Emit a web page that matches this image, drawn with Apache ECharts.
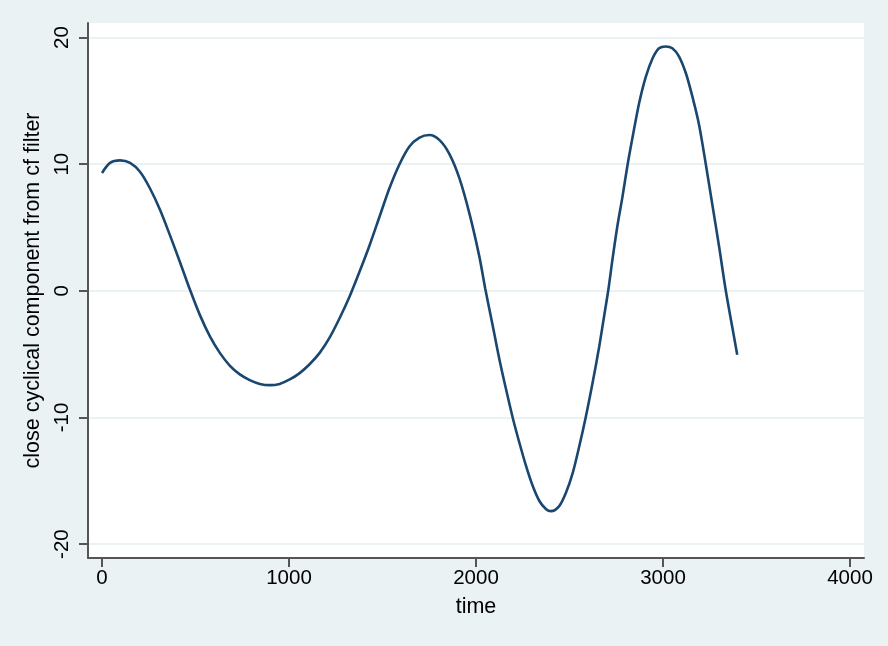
<!DOCTYPE html>
<html>
<head>
<meta charset="utf-8">
<script src="https://cdn.jsdelivr.net/npm/echarts@6/dist/echarts.min.js"></script>
<style>
html,body{margin:0;padding:0;background:#EAF2F3;}
#chart{width:888px;height:646px;}
</style>
</head>
<body>
<div id="chart"></div>
<script>
// time values
const time = [0,43,96,150,203,256,310,363,416,470,523,577,630,683,737,790,844,897,950,1004,1057,1110,1164,1217,1271,1324,1377,1431,1484,1537,1591,1644,1698,1751,1805,1858,1911,1965,2018,2049,2090,2125,2161,2196,2232,2268,2303,2339,2375,2401,2445,2481,2517,2552,2588,2623,2659,2683,2708,2730,2757,2783,2810,2837,2872,2908,2944,2979,3015,3050,3086,3122,3157,3193,3229,3264,3300,3336,3371,3397];
// close cyclical component from cf filter
const cyc = [9.3,10.1,10.3,10.1,9.4,8.1,6.4,4.4,2.3,0.1,-1.9,-3.6,-4.9,-5.9,-6.6,-7.05,-7.35,-7.45,-7.35,-7.0,-6.5,-5.8,-4.9,-3.7,-2.15,-0.45,1.5,3.6,5.85,8.1,10.0,11.4,12.1,12.3,11.9,10.8,8.9,6.1,2.7,0.2,-2.8,-5.4,-7.8,-10,-12,-13.85,-15.4,-16.6,-17.25,-17.4,-17.0,-15.95,-14.4,-12.3,-9.9,-7.3,-4.4,-2.2,0.1,2.5,5.2,7.4,9.9,12.1,14.8,16.9,18.35,19.15,19.3,19.15,18.5,17.2,15.35,13.1,10,6.8,3.5,0,-2.9,-5.05];
const xTicks = [0,1000,2000,3000,4000];
const yTicks = [-20,-10,0,10,20];

const font = '"Liberation Sans", Arial, Helvetica, sans-serif';
const chart = echarts.init(document.getElementById('chart'));
chart.setOption({
  animation: false,
  backgroundColor: '#EAF2F3',
  grid: {left: 88, right: 24, top: 23, bottom: 88, show: true, backgroundColor: '#FFFFFF', borderWidth: 0},
  xAxis: {
    type: 'value', min: -75, max: 4075,
    name: 'time', nameLocation: 'middle', nameGap: 38,
    nameTextStyle: {fontFamily: font, fontSize: 21.5, color: '#000'},
    axisLine: {show: true, onZero: false, lineStyle: {color: '#555555', width: 2}},
    axisTick: {show: true, length: 9, customValues: xTicks, lineStyle: {color: '#555555', width: 2}},
    axisLabel: {customValues: xTicks, margin: 10, fontFamily: font, fontSize: 20.5, color: '#000', formatter: v => String(v)},
    splitLine: {show: false}
  },
  yAxis: {
    type: 'value', min: -21.1, max: 21.15,
    name: 'close cyclical component from cf filter', nameLocation: 'middle', nameGap: 39, nameRotate: 90,
    nameTextStyle: {fontFamily: font, fontSize: 21.5, color: '#000'},
    axisLine: {show: true, onZero: false, lineStyle: {color: '#555555', width: 2}},
    axisTick: {show: true, length: 9, customValues: yTicks, lineStyle: {color: '#555555', width: 2}},
    axisLabel: {customValues: yTicks, rotate: 90, margin: 15, fontFamily: font, fontSize: 20.5, color: '#000', formatter: v => String(v)},
    splitLine: {show: true, lineStyle: {color: '#EAF2F3', width: 2}}
  },
  series: [{
    type: 'line',
    data: time.map((t, i) => [t, cyc[i]]),
    showSymbol: false,
    smooth: 0.3,
    lineStyle: {color: '#1A476F', width: 2.6},
    itemStyle: {color: '#1A476F'}
  }]
});
</script>
</body>
</html>
